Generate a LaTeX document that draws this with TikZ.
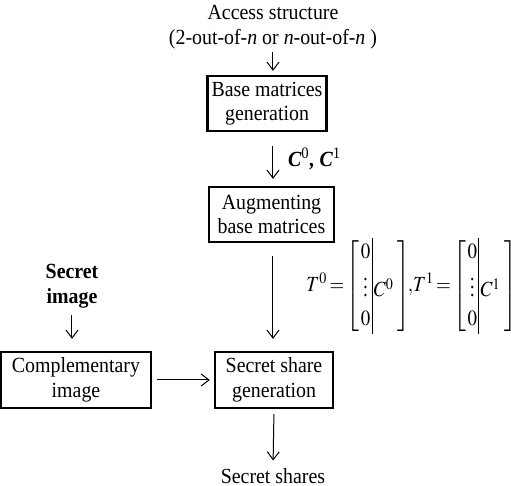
\documentclass[tikz,border=0pt]{standalone}
\usepackage{mathptmx}
\usepackage{fontspec}
\setmainfont{Liberation Serif}[FakeStretch=0.92]
\usetikzlibrary{arrows.meta}

\begin{document}
\begin{tikzpicture}[x=0.5pt, y=-0.5pt, line width=0.5pt,
  font=\fontsize{10.8}{12.3}\selectfont,
  >={Straight Barb[length=4pt,width=6pt]},
  block/.style={draw, line width=1.1pt, align=center, inner sep=0pt},
  txt/.style={align=center, inner sep=0pt}]
  \useasboundingbox (0,0) rectangle (511,486);
  \node[txt] (access) at (273,27) {Access structure\\(2-out-of-\textit{n} or \textit{n}-out-of-\textit{n} )};
  \node[block, minimum width=59.5pt, minimum height=27.5pt] (base) at (267,103.5) {Base matrices\\generation};
  \node[block, minimum width=62.5pt, minimum height=27.5pt] (aug) at (271.5,214.5) {Augmenting\\base matrices};
  \node[block, minimum width=59pt, minimum height=28pt] (gen) at (274,380) {Secret share\\generation};
  \node[block, minimum width=75pt, minimum height=28pt] (comp) at (76,380) {Complementary\\image};
  \node[txt, font=\fontsize{10.8}{12.3}\selectfont\bfseries] (secret) at (72,286) {Secret\\image};
  \node[txt, anchor=base] (shares) at (273,484) {Secret shares};
  \node[txt, anchor=west] (mat) at (306,286) {\scalebox{0.88}[1]{$\renewcommand{\arraystretch}{1.15}\setlength{\arraycolsep}{1pt}\thickmuskip=2mu
    T^0 = \left[\begin{array}{c|l}0&\\ \vdots&C^0\hspace{1pt}\\ 0&\end{array}\right]\!\!,\!
    T^1 = \left[\begin{array}{c|l}0&\\ \vdots&C^1\hspace{1pt}\\ 0&\end{array}\right]$}};
  \draw[->, shorten <=1.5pt, shorten >=2pt] (access.south) -- (access.south |- base.north);
  \draw[->, shorten <=7pt, shorten >=3.5pt] (access.south |- base.south) -- (access.south |- aug.north)
    node[midway, right=4pt, font=\fontsize{10.8}{12.3}\selectfont\bfseries\itshape] {C\textsuperscript{\upshape\mdseries 0}, C\textsuperscript{\upshape\mdseries 1}};
  \draw[->, shorten <=6.5pt, shorten >=6pt] (access.south |- aug.south) -- (access.south |- gen.north);
  \draw[->, shorten <=3.5pt, shorten >=6pt] (secret.south) -- (secret.south |- comp.north);
  \draw[->, shorten <=2.5pt, shorten >=2pt] (comp.east) -- (gen.west);
  \draw[->, shorten <=2.5pt, shorten >=4pt] (gen.south) -- (shares.north);
\end{tikzpicture}
\end{document}
